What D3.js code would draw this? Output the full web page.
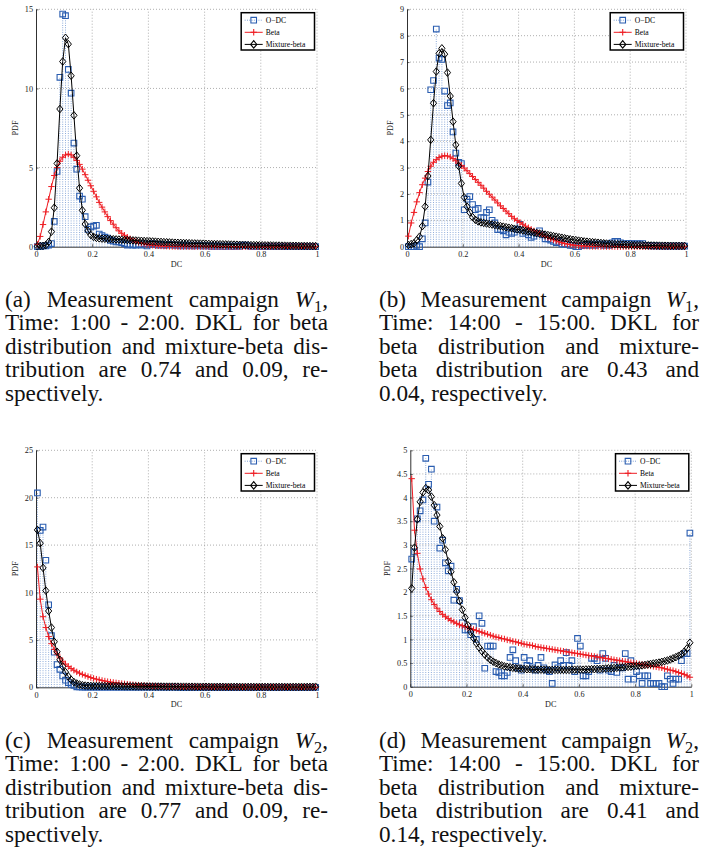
<!DOCTYPE html>
<html>
<head>
<meta charset="utf-8">
<script src="https://cdn.jsdelivr.net/npm/d3@7"></script>
<style>
  body { margin: 0; background: #fff; }
</style>
</head>
<body>
<div id="chart"></div>
<script>
/* DATA */
// PDF values per DC bin (100 bins of width 0.01, read at the bin centres)
const dcBins = d3.range(100).map(i => 0.005 + i * 0.01);
const xTickValues = [0, 0.2, 0.4, 0.6, 0.8, 1];
const legendLabels = ["O\u2212DC", "Beta", "Mixture-beta"];

// (a) W1, 1:00 - 2:00
const odcA = [0,0,0.05,0.05,0.1,0.2,1.6,4.75,10.7,14.7,
  14.6,11.2,9.7,6.55,4.9,3.2,3.0,1.9,1.1,1.25,
  1.3,1.35,0.8,0.7,0.6,0.55,0.4,0.35,0.3,0.3,
  0.25,0.2,0.1,0.15,0.1,0.1,0.15,0.1,0.2,0.05,
  0.15,0.2,0.15,0.1,0.15,0.1,0.1,0.15,0.1,0.1,
  0.1,0.05,0.1,0.05,0.1,0.05,0.05,0.1,0.05,0.05,
  0.05,0.05,0.02,0.05,0.02,0.05,0.02,0.02,0.05,0.02,
  0.02,0.05,0.02,0.1,0.1,0.05,0.02,0.02,0.02,0,
  0.02,0,0.02,0,0.02,0,0,0.02,0,0,
  0,0.02,0,0,0,0.02,0,0,0,0];
const betaA = [0.15,0.65,1.4,2.2,3.0,3.8,4.5,5.0,5.4,5.65,
  5.8,5.85,5.8,5.65,5.45,5.2,4.9,4.55,4.2,3.85,
  3.5,3.15,2.8,2.5,2.2,1.9,1.65,1.42,1.2,1.0,
  0.85,0.72,0.6,0.5,0.41,0.33,0.27,0.22,0.18,0.14,
  0.11,0.09,0.07,0.055,0.045,0.035,0.03,0.02,0.015,0.01,
  0.01,0.01,0.01,0.01,0.01,0.01,0.01,0.01,0.01,0.01,
  0.005,0.005,0.005,0.005,0.005,0.005,0.005,0.005,0.005,0.005,
  0,0,0,0,0,0,0,0,0,0,
  0,0,0,0,0,0,0,0,0,0,
  0,0,0,0,0,0,0,0,0,0];
const mixA = [0.02,0.05,0.05,0.1,0.3,0.95,2.46,5.26,8.7,11.7,
  13.2,12.8,10.8,8.3,5.75,3.7,2.3,1.43,1.0,0.74,
  0.62,0.56,0.53,0.51,0.5,0.49,0.48,0.47,0.46,0.45,
  0.44,0.43,0.42,0.41,0.4,0.39,0.38,0.37,0.36,0.35,
  0.34,0.33,0.32,0.31,0.3,0.29,0.28,0.27,0.26,0.25,
  0.245,0.24,0.23,0.225,0.22,0.21,0.205,0.2,0.195,0.19,
  0.18,0.175,0.17,0.165,0.16,0.155,0.15,0.145,0.14,0.135,
  0.13,0.125,0.12,0.115,0.11,0.105,0.1,0.1,0.095,0.09,
  0.09,0.085,0.08,0.08,0.075,0.07,0.07,0.065,0.065,0.06,
  0.06,0.055,0.055,0.05,0.05,0.05,0.045,0.045,0.04,0.04];

// (b) W1, 14:00 - 15:00
const odcB = [0,0,0,0.05,0,0.3,0.9,2.45,5.95,6.3,
  8.25,7.15,7.1,5.9,5.35,5.45,4.35,3.55,3.2,3.15,
  1.4,1.8,1.9,1.6,1.4,1.45,1.1,1.1,1.3,1.4,
  1.0,0.9,0.65,0.65,0.6,0.45,0.55,0.5,0.55,0.65,
  0.85,0.5,0.55,0.45,0.35,0.4,0.5,0.6,0.45,0.3,
  0.3,0.25,0.2,0.15,0.2,0.1,0.1,0.1,0.05,0.05,
  0,0,0.05,0.05,0.1,0.05,0.1,0.05,0.1,0.1,
  0.05,0.1,0.05,0.15,0.2,0.2,0.15,0.1,0.12,0.12,
  0.12,0.1,0.12,0.1,0.12,0.05,0.05,0.03,0.03,0.03,
  0.02,0.02,0.02,0.02,0.02,0.02,0.02,0.02,0.02,0.02];
const betaB = [0.4,0.9,1.3,1.7,2.05,2.35,2.6,2.85,3.05,3.2,
  3.3,3.38,3.43,3.45,3.44,3.4,3.34,3.26,3.17,3.08,
  2.98,2.88,2.77,2.66,2.55,2.44,2.33,2.22,2.1,1.99,
  1.88,1.77,1.66,1.55,1.45,1.35,1.25,1.15,1.06,0.99,
  0.92,0.85,0.78,0.72,0.66,0.6,0.55,0.5,0.45,0.4,
  0.35,0.3,0.26,0.22,0.18,0.15,0.12,0.1,0.08,0.06,
  0.05,0.04,0.03,0.025,0.02,0.015,0.01,0.01,0.01,0.005,
  0.005,0.005,0.005,0.005,0.005,0,0,0,0,0,
  0,0,0,0,0,0,0,0,0,0,
  0,0,0,0,0,0,0,0,0,0];
const mixB = [0.06,0.1,0.13,0.25,0.38,0.78,1.52,2.68,4.05,5.44,
  6.64,7.33,7.52,7.3,6.6,5.71,4.74,3.86,3.06,2.4,
  1.87,1.52,1.3,1.12,1.02,0.96,0.92,0.9,0.88,0.86,
  0.84,0.82,0.8,0.78,0.76,0.74,0.72,0.7,0.68,0.66,
  0.64,0.62,0.6,0.58,0.56,0.54,0.52,0.5,0.48,0.46,
  0.44,0.42,0.4,0.38,0.36,0.34,0.32,0.3,0.28,0.26,
  0.25,0.23,0.22,0.2,0.19,0.18,0.17,0.16,0.15,0.14,
  0.13,0.12,0.11,0.1,0.095,0.09,0.085,0.08,0.075,0.07,
  0.065,0.06,0.058,0.055,0.052,0.05,0.048,0.046,0.044,0.042,
  0.04,0.038,0.036,0.035,0.034,0.033,0.032,0.031,0.03,0.03];

// (c) W2, 1:00 - 2:00
const odcC = [20.5,16.55,16.9,13.4,8.7,5.45,3.7,2.4,1.9,1.2,
  0.75,0.5,0.3,0.2,0.05,0.05,0.02,0.02,0.02,0.02,
  0.02,0.01,0.02,0.01,0.01,0.02,0.01,0.01,0.01,0.01,
  0.01,0.01,0.01,0.01,0.01,0.01,0.01,0.01,0.01,0.01,
  0.01,0.01,0.01,0.01,0.01,0.01,0.01,0.01,0.01,0.01,
  0,0,0,0,0,0,0,0,0,0,
  0,0,0,0,0,0,0,0,0,0,
  0,0,0,0,0,0,0,0,0,0,
  0,0,0,0,0,0,0,0,0,0,
  0,0,0,0,0,0,0,0,0,0];
const betaC = [12.7,9.3,7.45,6.3,5.35,4.6,4.0,3.5,3.1,2.75,
  2.45,2.2,1.98,1.8,1.63,1.49,1.36,1.24,1.13,1.03,
  0.94,0.86,0.79,0.72,0.66,0.6,0.55,0.51,0.47,0.43,
  0.39,0.36,0.33,0.3,0.27,0.25,0.23,0.21,0.19,0.17,
  0.155,0.14,0.13,0.12,0.11,0.1,0.09,0.08,0.075,0.07,
  0.06,0.055,0.05,0.045,0.04,0.035,0.03,0.028,0.025,0.022,
  0.02,0.018,0.016,0.014,0.012,0.01,0.01,0.008,0.006,0.005,
  0.005,0.005,0.005,0.005,0.005,0.005,0.005,0.005,0.005,0.005,
  0,0,0,0,0,0,0,0,0,0,
  0,0,0,0,0,0,0,0,0,0];
const mixC = [16.6,15.2,12.6,10.2,8.05,6.3,4.8,3.75,2.9,2.2,
  1.6,1.15,0.8,0.55,0.4,0.3,0.22,0.18,0.16,0.15,
  0.14,0.14,0.13,0.13,0.13,0.12,0.12,0.12,0.11,0.11,
  0.11,0.1,0.1,0.1,0.1,0.09,0.09,0.09,0.09,0.08,
  0.08,0.08,0.08,0.08,0.08,0.07,0.07,0.07,0.07,0.07,
  0.07,0.065,0.065,0.065,0.06,0.06,0.06,0.06,0.055,0.055,
  0.055,0.055,0.05,0.05,0.05,0.05,0.05,0.048,0.048,0.046,
  0.046,0.045,0.044,0.043,0.042,0.041,0.04,0.04,0.04,0.04,
  0.04,0.04,0.04,0.04,0.04,0.04,0.04,0.04,0.04,0.04,
  0.04,0.04,0.04,0.04,0.04,0.04,0.04,0.045,0.05,0.06];

// (d) W2, 14:00 - 15:00
const odcD = [2.7,2.85,3.55,3.72,3.95,4.83,4.28,4.6,3.5,3.8,
  2.93,3.1,2.62,2.45,2.55,1.83,2.06,1.82,1.35,1.2,
  1.2,1.1,1.27,1.0,1.5,1.34,0.39,0.86,0.86,0.86,
  0.32,0.3,0.23,0.23,0.3,0.62,0.78,0.55,0.4,0.35,
  0.62,0.45,0.55,0.4,0.35,0.45,0.62,0.4,0.35,0.32,
  0.07,0.46,0.4,0.55,0.45,0.72,0.45,0.55,0.32,1.02,
  0.86,0.23,0.23,0.32,0.6,0.6,0.55,0.35,0.7,0.6,
  0.35,0.32,0.45,0.3,0.5,0.4,0.7,0.16,0.55,0.16,
  0.32,0.23,0.07,0.23,0.23,0.07,0.07,0.07,0.07,0,
  0,0.23,0.16,0.07,0.16,0.16,0.55,0.7,0.7,3.25];
const betaD = [4.4,3.31,2.82,2.49,2.28,2.1,1.96,1.84,1.74,1.66,
  1.59,1.53,1.48,1.44,1.4,1.37,1.34,1.31,1.29,1.27,
  1.25,1.23,1.21,1.19,1.17,1.15,1.13,1.11,1.09,1.07,
  1.05,1.04,1.02,1.01,0.99,0.98,0.96,0.95,0.93,0.92,
  0.9,0.89,0.88,0.87,0.85,0.84,0.83,0.82,0.81,0.8,
  0.79,0.78,0.77,0.76,0.75,0.74,0.73,0.72,0.71,0.7,
  0.69,0.68,0.67,0.66,0.65,0.64,0.63,0.62,0.61,0.6,
  0.59,0.58,0.57,0.56,0.55,0.54,0.53,0.52,0.51,0.5,
  0.49,0.48,0.47,0.46,0.45,0.44,0.43,0.42,0.41,0.4,
  0.38,0.37,0.35,0.34,0.32,0.3,0.28,0.26,0.23,0.2];
const mixD = [2.08,2.94,3.54,3.91,4.11,4.2,4.16,4.02,3.84,3.63,
  3.39,3.14,2.9,2.65,2.43,2.21,2.01,1.81,1.63,1.46,
  1.3,1.16,1.03,0.92,0.83,0.75,0.68,0.62,0.57,0.53,
  0.5,0.47,0.45,0.43,0.42,0.41,0.4,0.39,0.385,0.38,
  0.375,0.37,0.37,0.365,0.365,0.36,0.36,0.36,0.36,0.355,
  0.355,0.355,0.355,0.355,0.355,0.355,0.355,0.36,0.36,0.36,
  0.36,0.36,0.365,0.365,0.37,0.37,0.375,0.375,0.38,0.385,
  0.39,0.39,0.395,0.4,0.405,0.41,0.415,0.42,0.425,0.43,
  0.44,0.445,0.45,0.46,0.47,0.48,0.49,0.5,0.51,0.525,
  0.54,0.555,0.575,0.6,0.625,0.655,0.69,0.74,0.81,0.93];

// y tick values for each panel
const yTicksA = [0, 5, 10, 15];
const yTicksB = [0, 1, 2, 3, 4, 5, 6, 7, 8, 9];
const yTicksC = [0, 5, 10, 15, 20, 25];
const yTicksD = [0, 0.5, 1, 1.5, 2, 2.5, 3, 3.5, 4, 4.5, 5];

// captions ("W_1" = italic W with subscript)
const captionA = ["(a) Measurement campaign W_1,", "Time: 1:00 - 2:00. DKL for beta",
  "distribution and mixture-beta dis-", "tribution are 0.74 and 0.09, re-", "spectively."];
const captionB = ["(b) Measurement campaign W_1,", "Time: 14:00 - 15:00. DKL for",
  "beta distribution and mixture-", "beta distribution are 0.43 and", "0.04, respectively."];
const captionC = ["(c) Measurement campaign W_2,", "Time: 1:00 - 2:00. DKL for beta",
  "distribution and mixture-beta dis-", "tribution are 0.77 and 0.09, re-", "spectively."];
const captionD = ["(d) Measurement campaign W_2,", "Time: 14:00 - 15:00. DKL for",
  "beta distribution and mixture-", "beta distribution are 0.41 and", "0.14, respectively."];

/* LAYOUT */
const panels = [
  { left: 36, top: 9.3, width: 281, height: 237.4, yTicks: yTicksA, odc: odcA, beta: betaA, mix: mixA,
    caption: captionA, capX: 5, capY: 307, capW: 323 },
  { left: 407, top: 9.3, width: 279, height: 237.4, yTicks: yTicksB, odc: odcB, beta: betaB, mix: mixB,
    caption: captionB, capX: 379, capY: 307, capW: 320 },
  { left: 36, top: 450.3, width: 281, height: 237, yTicks: yTicksC, odc: odcC, beta: betaC, mix: mixC,
    caption: captionC, capX: 5, capY: 748, capW: 323 },
  { left: 410.3, top: 450.3, width: 281, height: 236.4, yTicks: yTicksD, odc: odcD, beta: betaD, mix: mixD,
    caption: captionD, capX: 379, capY: 748, capW: 320 }
];

const blue = "#2a5db0", red = "#ee1d23", black = "#000", stemBlue = "#4d7cc6";
const serif = "\"Liberation Serif\"";
const capFont = 23.2, capLineH = 23.4;

const svg = d3.select("#chart").append("svg")
  .attr("width", 703)
  .attr("height", 861)
  .style("font-family", serif);

// marker shapes
const squarePath = "M-2.8,-2.8H2.8V2.8H-2.8Z";
const plusPath = "M-3.2,0H3.2M0,-3.2V3.2";
const diamondPath = "M0,-3.8L3.1,0L0,3.8L-3.1,0Z";

panels.forEach(drawPanel);

function drawPanel(p) {
  const yMax = p.yTicks[p.yTicks.length - 1];
  const xScale = d3.scaleLinear().domain([0, 1]).range([p.left, p.left + p.width]);
  const yScale = d3.scaleLinear().domain([0, yMax]).range([p.top + p.height, p.top]);
  const g = svg.append("g");

  // + GRID (dotted)
  const grid = g.append("g")
    .attr("stroke", "#8c8c8c")
    .attr("stroke-width", 0.7)
    .attr("stroke-dasharray", "1,2");
  grid.selectAll(".vgrid")
    .data(xTickValues.slice(1))
    .join("line")
    .attr("x1", d => xScale(d)).attr("x2", d => xScale(d))
    .attr("y1", yScale(0)).attr("y2", yScale(yMax));
  grid.selectAll(".hgrid")
    .data(p.yTicks.slice(1))
    .join("line")
    .attr("x1", xScale(0)).attr("x2", xScale(1))
    .attr("y1", d => yScale(d)).attr("y2", d => yScale(d));

  // + AXES
  const xAxis = d3.axisBottom(xScale).tickValues(xTickValues).tickSizeInner(-2.5).tickSizeOuter(0)
    .tickPadding(4.5).tickFormat(d => String(d));
  const yAxis = d3.axisLeft(yScale).tickValues(p.yTicks).tickSizeInner(-2.5).tickSizeOuter(0)
    .tickPadding(3).tickFormat(d => String(d));

  const xAxisGroup = g.append("g")
    .attr("transform", `translate(0,${yScale(0)})`)
    .call(xAxis);
  const yAxisGroup = g.append("g")
    .attr("transform", `translate(${xScale(0)},0)`)
    .call(yAxis);
  [xAxisGroup, yAxisGroup].forEach(ax => {
    ax.attr("font-family", null).attr("font-size", 8.2).attr("color", "#1a1a1a");
    ax.selectAll("text").style("font-family", serif);
    ax.select(".domain").attr("stroke-width", 0.9);
    ax.selectAll(".tick line").attr("stroke-width", 0.7);
  });

  g.append("text")
    .attr("x", (xScale(0) + xScale(1)) / 2)
    .attr("y", yScale(0) + 20)
    .attr("text-anchor", "middle")
    .attr("font-size", 8.2)
    .attr("fill", "#1a1a1a")
    .style("font-family", serif)
    .text("DC");

  const maxTickW = d3.max(yAxisGroup.selectAll(".tick text").nodes(), n => n.getComputedTextLength());
  const labelX = xScale(0) - 3 - maxTickW - 7;
  g.append("text")
    .attr("transform", `translate(${labelX},${(yScale(0) + yScale(yMax)) / 2}) rotate(-90)`)
    .attr("text-anchor", "middle")
    .attr("font-size", 8.2)
    .attr("fill", "#1a1a1a")
    .style("font-family", serif)
    .text("PDF");

  // + O-DC: dotted stems with square markers
  const odcData = p.odc.map((v, i) => ({ dc: dcBins[i], pdf: v }));
  g.append("g")
    .selectAll("line")
    .data(odcData)
    .join("line")
    .attr("x1", d => xScale(d.dc)).attr("x2", d => xScale(d.dc))
    .attr("y1", yScale(0)).attr("y2", d => yScale(d.pdf))
    .attr("stroke", stemBlue)
    .attr("stroke-width", 0.7)
    .attr("stroke-dasharray", "0.9,1.4");
  g.append("g")
    .selectAll("path")
    .data(odcData)
    .join("path")
    .attr("transform", d => `translate(${xScale(d.dc)},${yScale(d.pdf)})`)
    .attr("d", squarePath)
    .attr("fill", "none")
    .attr("stroke", blue)
    .attr("stroke-width", 1.1);

  // + BETA: red line with plus markers
  const line = d3.line().x(d => xScale(d.dc)).y(d => yScale(d.pdf));
  const betaData = p.beta.map((v, i) => ({ dc: dcBins[i], pdf: v }));
  g.append("path")
    .datum(betaData)
    .attr("d", line)
    .attr("fill", "none")
    .attr("stroke", red)
    .attr("stroke-width", 1);
  g.append("g")
    .selectAll("path")
    .data(betaData)
    .join("path")
    .attr("transform", d => `translate(${xScale(d.dc)},${yScale(d.pdf)})`)
    .attr("d", plusPath)
    .attr("stroke", red)
    .attr("stroke-width", 1);

  // + MIXTURE-BETA: black line with diamond markers
  const mixData = p.mix.map((v, i) => ({ dc: dcBins[i], pdf: v }));
  g.append("path")
    .datum(mixData)
    .attr("d", line)
    .attr("fill", "none")
    .attr("stroke", black)
    .attr("stroke-width", 1);
  g.append("g")
    .selectAll("path")
    .data(mixData)
    .join("path")
    .attr("transform", d => `translate(${xScale(d.dc)},${yScale(d.pdf)})`)
    .attr("d", diamondPath)
    .attr("fill", "none")
    .attr("stroke", black)
    .attr("stroke-width", 1);

  // + LEGEND
  const legW = 73.3, legH = 37.3;
  const leg = g.append("g")
    .attr("transform", `translate(${xScale(1) - 2.5 - legW},${yScale(yMax) + 3.4})`);
  leg.append("rect")
    .attr("width", legW).attr("height", legH)
    .attr("fill", "#fff").attr("stroke", "#000").attr("stroke-width", 1.5);
  const rows = leg.selectAll(".row")
    .data(legendLabels)
    .join("g")
    .attr("transform", (d, i) => `translate(0,${7.5 + i * 12.1})`);
  rows.append("line")
    .attr("x1", 3.5).attr("x2", 21.5)
    .attr("stroke", (d, i) => [stemBlue, red, black][i])
    .attr("stroke-width", (d, i) => i === 0 ? 0.8 : 1)
    .attr("stroke-dasharray", (d, i) => i === 0 ? "0.9,1.4" : null);
  rows.append("path")
    .attr("transform", "translate(12.5,0)")
    .attr("d", (d, i) => [squarePath, plusPath, diamondPath][i])
    .attr("fill", "none")
    .attr("stroke", (d, i) => [blue, red, black][i])
    .attr("stroke-width", 1.1);
  rows.append("text")
    .attr("x", 24.5)
    .attr("dy", "0.33em")
    .attr("font-size", 7.6)
    .style("font-family", serif)
    .text(d => d);

  // + CAPTION
  drawCaption(p.caption, p.capX, p.capY, p.capW);
}

// justified caption lines, last line left aligned
function drawCaption(lines, x0, y0, width) {
  lines.forEach((lineText, li) => {
    const words = lineText.split(" ");
    const nodes = words.map(w => {
      const t = svg.append("text")
        .attr("y", y0 + li * capLineH)
        .attr("font-size", capFont)
        .attr("fill", "#111")
        .style("font-family", serif);
      if (w.startsWith("W_")) {
        t.append("tspan").attr("font-style", "italic").text("W");
        t.append("tspan").attr("font-size", capFont * 0.7).attr("dy", 4.5).text(w[2]);
        t.append("tspan").attr("dy", -4.5).text(w.slice(3));
      } else {
        t.text(w);
      }
      return t;
    });
    const widths = nodes.map(t => t.node().getComputedTextLength());
    const last = li === lines.length - 1;
    const gap = last ? capFont * 0.25 : (width - d3.sum(widths)) / (words.length - 1);
    let cx = x0;
    nodes.forEach((t, i) => {
      t.attr("x", cx);
      cx += widths[i] + gap;
    });
  });
}
</script>
</body>
</html>
